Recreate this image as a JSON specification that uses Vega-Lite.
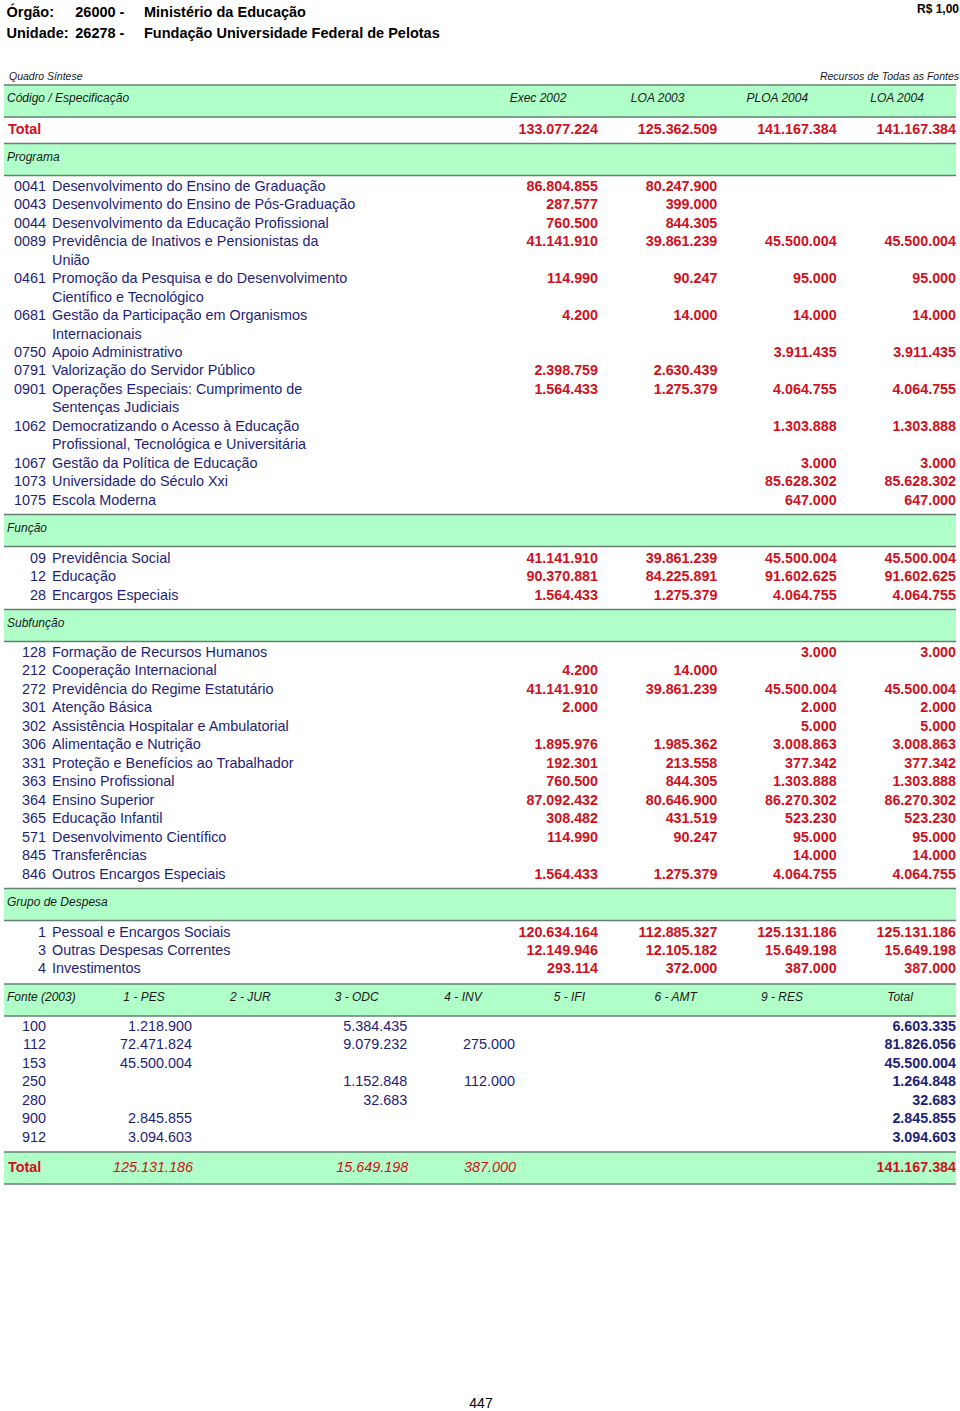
{
  "$schema": "https://vega.github.io/schema/vega-lite/v6.json",
  "width": 960,
  "height": 1411,
  "autosize": {"type": "fit", "contains": "padding"},
  "padding": {"left": 3, "right": 3, "top": 0, "bottom": 0},
  "background": "white",
  "config": {
    "view": {"stroke": null},
    "text": {"font": "Liberation Sans"},
    "locale": {"number": {"decimal": ",", "thousands": ".", "grouping": [3], "currency": ["R$ ", ""]}}
  },
  "datasets": {
    "title": [
      {"line": 0, "label": "Órgão:", "code": "26000 -", "name": "Ministério da Educação"},
      {"line": 1, "label": "Unidade:", "code": "26278 -", "name": "Fundação Universidade Federal de Pelotas"}
    ],
    "unit": [{"line": 0, "text": "R$ 1,00"}],
    "caption": [{"line": 2, "quadro": "Quadro Síntese", "fontes": "Recursos de Todas as Fontes"}],
    "page": [{"line": 55, "page": "447"}],
    "bands": [
      {"line": 3, "name": "Código / Especificação"},
      {"line": 5, "name": "Programa"},
      {"line": 24, "name": "Função"},
      {"line": 28, "name": "Subfunção"},
      {"line": 42, "name": "Grupo de Despesa"},
      {"line": 46, "name": "Fonte (2003)"},
      {"line": 54, "name": ""}
    ],
    "colheads": [
      {"line": 3, "column": "Exec 2002"},
      {"line": 3, "column": "LOA 2003"},
      {"line": 3, "column": "PLOA 2004"},
      {"line": 3, "column": "LOA 2004"}
    ],
    "totals": [{"line": 4, "label": "Total"}, {"line": 54, "label": "Total"}],
    "items": [
      {"line": 4, "Exec 2002": 133077224, "LOA 2003": 125362509, "PLOA 2004": 141167384, "LOA 2004": 141167384},
      {"line": 6, "code": "0041", "desc": "Desenvolvimento do Ensino de Graduação", "Exec 2002": 86804855, "LOA 2003": 80247900},
      {"line": 7, "code": "0043", "desc": "Desenvolvimento do Ensino de Pós-Graduação", "Exec 2002": 287577, "LOA 2003": 399000},
      {"line": 8, "code": "0044", "desc": "Desenvolvimento da Educação Profissional", "Exec 2002": 760500, "LOA 2003": 844305},
      {"line": 9, "code": "0089", "desc": "Previdência de Inativos e Pensionistas da", "Exec 2002": 41141910, "LOA 2003": 39861239, "PLOA 2004": 45500004, "LOA 2004": 45500004},
      {"line": 10, "desc": "União"},
      {"line": 11, "code": "0461", "desc": "Promoção da Pesquisa e do Desenvolvimento", "Exec 2002": 114990, "LOA 2003": 90247, "PLOA 2004": 95000, "LOA 2004": 95000},
      {"line": 12, "desc": "Científico e Tecnológico"},
      {"line": 13, "code": "0681", "desc": "Gestão da Participação em Organismos", "Exec 2002": 4200, "LOA 2003": 14000, "PLOA 2004": 14000, "LOA 2004": 14000},
      {"line": 14, "desc": "Internacionais"},
      {"line": 15, "code": "0750", "desc": "Apoio Administrativo", "PLOA 2004": 3911435, "LOA 2004": 3911435},
      {"line": 16, "code": "0791", "desc": "Valorização do Servidor Público", "Exec 2002": 2398759, "LOA 2003": 2630439},
      {"line": 17, "code": "0901", "desc": "Operações Especiais: Cumprimento de", "Exec 2002": 1564433, "LOA 2003": 1275379, "PLOA 2004": 4064755, "LOA 2004": 4064755},
      {"line": 18, "desc": "Sentenças Judiciais"},
      {"line": 19, "code": "1062", "desc": "Democratizando o Acesso à Educação", "PLOA 2004": 1303888, "LOA 2004": 1303888},
      {"line": 20, "desc": "Profissional, Tecnológica e Universitária"},
      {"line": 21, "code": "1067", "desc": "Gestão da Política de Educação", "PLOA 2004": 3000, "LOA 2004": 3000},
      {"line": 22, "code": "1073", "desc": "Universidade do Século Xxi", "PLOA 2004": 85628302, "LOA 2004": 85628302},
      {"line": 23, "code": "1075", "desc": "Escola Moderna", "PLOA 2004": 647000, "LOA 2004": 647000},
      {"line": 25, "code": "09", "desc": "Previdência Social", "Exec 2002": 41141910, "LOA 2003": 39861239, "PLOA 2004": 45500004, "LOA 2004": 45500004},
      {"line": 26, "code": "12", "desc": "Educação", "Exec 2002": 90370881, "LOA 2003": 84225891, "PLOA 2004": 91602625, "LOA 2004": 91602625},
      {"line": 27, "code": "28", "desc": "Encargos Especiais", "Exec 2002": 1564433, "LOA 2003": 1275379, "PLOA 2004": 4064755, "LOA 2004": 4064755},
      {"line": 29, "code": "128", "desc": "Formação de Recursos Humanos", "PLOA 2004": 3000, "LOA 2004": 3000},
      {"line": 30, "code": "212", "desc": "Cooperação Internacional", "Exec 2002": 4200, "LOA 2003": 14000},
      {"line": 31, "code": "272", "desc": "Previdência do Regime Estatutário", "Exec 2002": 41141910, "LOA 2003": 39861239, "PLOA 2004": 45500004, "LOA 2004": 45500004},
      {"line": 32, "code": "301", "desc": "Atenção Básica", "Exec 2002": 2000, "PLOA 2004": 2000, "LOA 2004": 2000},
      {"line": 33, "code": "302", "desc": "Assistência Hospitalar e Ambulatorial", "PLOA 2004": 5000, "LOA 2004": 5000},
      {"line": 34, "code": "306", "desc": "Alimentação e Nutrição", "Exec 2002": 1895976, "LOA 2003": 1985362, "PLOA 2004": 3008863, "LOA 2004": 3008863},
      {"line": 35, "code": "331", "desc": "Proteção e Benefícios ao Trabalhador", "Exec 2002": 192301, "LOA 2003": 213558, "PLOA 2004": 377342, "LOA 2004": 377342},
      {"line": 36, "code": "363", "desc": "Ensino Profissional", "Exec 2002": 760500, "LOA 2003": 844305, "PLOA 2004": 1303888, "LOA 2004": 1303888},
      {"line": 37, "code": "364", "desc": "Ensino Superior", "Exec 2002": 87092432, "LOA 2003": 80646900, "PLOA 2004": 86270302, "LOA 2004": 86270302},
      {"line": 38, "code": "365", "desc": "Educação Infantil", "Exec 2002": 308482, "LOA 2003": 431519, "PLOA 2004": 523230, "LOA 2004": 523230},
      {"line": 39, "code": "571", "desc": "Desenvolvimento Científico", "Exec 2002": 114990, "LOA 2003": 90247, "PLOA 2004": 95000, "LOA 2004": 95000},
      {"line": 40, "code": "845", "desc": "Transferências", "PLOA 2004": 14000, "LOA 2004": 14000},
      {"line": 41, "code": "846", "desc": "Outros Encargos Especiais", "Exec 2002": 1564433, "LOA 2003": 1275379, "PLOA 2004": 4064755, "LOA 2004": 4064755},
      {"line": 43, "code": "1", "desc": "Pessoal e Encargos Sociais", "Exec 2002": 120634164, "LOA 2003": 112885327, "PLOA 2004": 125131186, "LOA 2004": 125131186},
      {"line": 44, "code": "3", "desc": "Outras Despesas Correntes", "Exec 2002": 12149946, "LOA 2003": 12105182, "PLOA 2004": 15649198, "LOA 2004": 15649198},
      {"line": 45, "code": "4", "desc": "Investimentos", "Exec 2002": 293114, "LOA 2003": 372000, "PLOA 2004": 387000, "LOA 2004": 387000}
    ],
    "fonteheads": [
      {"line": 46, "column": "1 - PES"},
      {"line": 46, "column": "2 - JUR"},
      {"line": 46, "column": "3 - ODC"},
      {"line": 46, "column": "4 - INV"},
      {"line": 46, "column": "5 - IFI"},
      {"line": 46, "column": "6 - AMT"},
      {"line": 46, "column": "9 - RES"},
      {"line": 46, "column": "Total"}
    ],
    "fontes": [
      {"line": 47, "code": "100", "1 - PES": 1218900, "3 - ODC": 5384435, "Total": 6603335},
      {"line": 48, "code": "112", "1 - PES": 72471824, "3 - ODC": 9079232, "4 - INV": 275000, "Total": 81826056},
      {"line": 49, "code": "153", "1 - PES": 45500004, "Total": 45500004},
      {"line": 50, "code": "250", "3 - ODC": 1152848, "4 - INV": 112000, "Total": 1264848},
      {"line": 51, "code": "280", "3 - ODC": 32683, "Total": 32683},
      {"line": 52, "code": "900", "1 - PES": 2845855, "Total": 2845855},
      {"line": 53, "code": "912", "1 - PES": 3094603, "Total": 3094603}
    ],
    "fontetotal": [
      {"line": 54, "1 - PES": 125131186, "3 - ODC": 15649198, "4 - INV": 387000, "Total": 141167384}
    ]
  },
  "encoding": {
    "y": {
      "field": "line",
      "type": "quantitative",
      "axis": null,
      "scale": {
        "zero": false,
        "nice": false,
        "padding": 0,
        "domain": [0, 1, 2, 3, 4, 5, 6, 23, 24, 25, 27, 28, 29, 41, 42, 43, 45, 46, 47, 53, 54, 55],
        "range": [12.5, 34, 77, 101, 129.5, 159.5, 187, 500.5, 530.5, 558.5, 595.5, 625.5, 652.5, 874.5, 904.5, 932.5, 968.5, 1000, 1026.5, 1137.5, 1168, 1404]
      }
    }
  },
  "layer": [
    {
      "data": {"name": "bands"},
      "mark": {"type": "bar", "orient": "horizontal", "size": 32, "color": "#B0FFC9"},
      "encoding": {}
    },
    {
      "data": {"name": "bands"},
      "mark": {"type": "rule", "yOffset": -16, "color": "#667F71", "strokeWidth": 1.5},
      "encoding": {}
    },
    {
      "data": {"name": "bands"},
      "mark": {"type": "rule", "yOffset": 16, "color": "#667F71", "strokeWidth": 1.5},
      "encoding": {}
    },
    {
      "data": {"name": "bands"},
      "transform": [{"filter": "datum.name != ''"}],
      "mark": {"type": "text", "align": "left", "fontStyle": "italic", "fontSize": 12, "color": "#1a1a1a", "dy": -3},
      "encoding": {
        "text": {"field": "name"},
        "x": {"datum": "Especificação", "type": "nominal", "axis": null, "scale": {"type": "point", "padding": 0, "domain": ["Especificação"], "range": [3, 3]}}
      }
    },
    {
      "data": {"name": "title"},
      "transform": [{"fold": ["label", "code", "name"], "as": ["part", "text"]}],
      "mark": {"type": "text", "align": "left", "fontWeight": "bold", "fontSize": 14.5, "color": "#000000"},
      "encoding": {
        "text": {"field": "text"},
        "x": {"field": "part", "type": "nominal", "axis": null, "scale": {"type": "point", "padding": 0, "domain": ["label", "code", "name"], "range": [2.5, 140]}}
      }
    },
    {
      "data": {"name": "unit"},
      "mark": {"type": "text", "align": "right", "fontWeight": "bold", "fontSize": 12, "color": "#000000", "dy": -3.5},
      "encoding": {
        "text": {"field": "text"},
        "x": {"datum": "direita", "type": "nominal", "axis": null, "scale": {"type": "point", "padding": 0, "domain": ["direita"], "range": [955, 955]}}
      }
    },
    {
      "data": {"name": "caption"},
      "mark": {"type": "text", "align": "left", "fontStyle": "italic", "fontSize": 10.5, "color": "#1a1a1a"},
      "encoding": {
        "text": {"field": "quadro"},
        "x": {"datum": "esquerda", "type": "nominal", "axis": null, "scale": {"type": "point", "padding": 0, "domain": ["esquerda"], "range": [5, 5]}}
      }
    },
    {
      "data": {"name": "caption"},
      "mark": {"type": "text", "align": "right", "fontStyle": "italic", "fontSize": 10.5, "color": "#1a1a1a"},
      "encoding": {
        "text": {"field": "fontes"},
        "x": {"datum": "direita", "type": "nominal", "axis": null, "scale": {"type": "point", "padding": 0, "domain": ["direita"], "range": [955, 955]}}
      }
    },
    {
      "data": {"name": "colheads"},
      "mark": {"type": "text", "align": "center", "fontStyle": "italic", "fontSize": 12, "color": "#1a1a1a", "dy": -3},
      "encoding": {
        "text": {"field": "column"},
        "x": {"field": "column", "type": "nominal", "axis": null, "scale": {"type": "point", "padding": 0, "domain": ["Exec 2002", "LOA 2003", "PLOA 2004", "LOA 2004"], "range": [534, 893]}}
      }
    },
    {
      "data": {"name": "totals"},
      "mark": {"type": "text", "align": "left", "fontWeight": "bold", "fontSize": 14.4, "color": "#D0101C"},
      "encoding": {
        "text": {"field": "label"},
        "x": {"datum": "Especificação", "type": "nominal", "axis": null, "scale": {"type": "point", "padding": 0, "domain": ["Especificação"], "range": [4, 4]}}
      }
    },
    {
      "data": {"name": "items"},
      "transform": [{"filter": "isValid(datum.code)"}],
      "mark": {"type": "text", "align": "right", "fontSize": 14.4, "color": "#1E1E78"},
      "encoding": {
        "text": {"field": "code"},
        "x": {"datum": "Código", "type": "nominal", "axis": null, "scale": {"type": "point", "padding": 0, "domain": ["Código"], "range": [42, 42]}}
      }
    },
    {
      "data": {"name": "items"},
      "transform": [{"filter": "isValid(datum.desc)"}],
      "mark": {"type": "text", "align": "left", "fontSize": 14.4, "color": "#1E1E78"},
      "encoding": {
        "text": {"field": "desc"},
        "x": {"datum": "Especificação", "type": "nominal", "axis": null, "scale": {"type": "point", "padding": 0, "domain": ["Especificação"], "range": [48, 48]}}
      }
    },
    {
      "data": {"name": "items"},
      "transform": [
        {"fold": ["Exec 2002", "LOA 2003", "PLOA 2004", "LOA 2004"], "as": ["column", "value"]},
        {"filter": "isValid(datum.value)"}
      ],
      "mark": {"type": "text", "align": "right", "fontWeight": "bold", "fontSize": 14.3, "color": "#D0101C"},
      "encoding": {
        "text": {"field": "value", "type": "quantitative", "format": ",d"},
        "x": {"field": "column", "type": "nominal", "axis": null, "scale": {"type": "point", "padding": 0, "domain": ["Exec 2002", "LOA 2003", "PLOA 2004", "LOA 2004"], "range": [594, 952]}}
      }
    },
    {
      "data": {"name": "fonteheads"},
      "transform": [{"filter": "datum.column != 'Total'"}],
      "mark": {"type": "text", "align": "center", "fontStyle": "italic", "fontSize": 12, "color": "#1a1a1a", "dy": -3},
      "encoding": {
        "text": {"field": "column"},
        "x": {"field": "column", "type": "nominal", "axis": null, "scale": {"type": "point", "padding": 0, "domain": ["1 - PES", "2 - JUR", "3 - ODC", "4 - INV", "5 - IFI", "6 - AMT", "9 - RES"], "range": [140, 778]}}
      }
    },
    {
      "data": {"name": "fonteheads"},
      "transform": [{"filter": "datum.column == 'Total'"}],
      "mark": {"type": "text", "align": "center", "fontStyle": "italic", "fontSize": 12, "color": "#1a1a1a", "dy": -3},
      "encoding": {
        "text": {"field": "column"},
        "x": {"field": "column", "type": "nominal", "axis": null, "scale": {"type": "point", "padding": 0, "domain": ["Total"], "range": [896, 896]}}
      }
    },
    {
      "data": {"name": "fontes"},
      "mark": {"type": "text", "align": "right", "fontSize": 14.4, "color": "#1E1E78"},
      "encoding": {
        "text": {"field": "code"},
        "x": {"datum": "Código", "type": "nominal", "axis": null, "scale": {"type": "point", "padding": 0, "domain": ["Código"], "range": [42, 42]}}
      }
    },
    {
      "data": {"name": "fontes"},
      "transform": [
        {"fold": ["1 - PES", "2 - JUR", "3 - ODC", "4 - INV", "5 - IFI", "6 - AMT", "9 - RES"], "as": ["column", "value"]},
        {"filter": "isValid(datum.value)"}
      ],
      "mark": {"type": "text", "align": "right", "fontSize": 14.4, "color": "#1E1E78"},
      "encoding": {
        "text": {"field": "value", "type": "quantitative", "format": ",d"},
        "x": {"field": "column", "type": "nominal", "axis": null, "scale": {"type": "point", "padding": 0, "domain": ["1 - PES", "2 - JUR", "3 - ODC", "4 - INV", "5 - IFI", "6 - AMT", "9 - RES"], "range": [188, 834]}}
      }
    },
    {
      "data": {"name": "fontes"},
      "mark": {"type": "text", "align": "right", "fontWeight": "bold", "fontSize": 14.3, "color": "#1E1E78"},
      "encoding": {
        "text": {"field": "Total", "type": "quantitative", "format": ",d"},
        "x": {"datum": "Total", "type": "nominal", "axis": null, "scale": {"type": "point", "padding": 0, "domain": ["Total"], "range": [952, 952]}}
      }
    },
    {
      "data": {"name": "fontetotal"},
      "transform": [
        {"fold": ["1 - PES", "2 - JUR", "3 - ODC", "4 - INV", "5 - IFI", "6 - AMT", "9 - RES"], "as": ["column", "value"]},
        {"filter": "isValid(datum.value)"}
      ],
      "mark": {"type": "text", "align": "right", "fontStyle": "italic", "fontSize": 14.4, "color": "#D0101C"},
      "encoding": {
        "text": {"field": "value", "type": "quantitative", "format": ",d"},
        "x": {"field": "column", "type": "nominal", "axis": null, "scale": {"type": "point", "padding": 0, "domain": ["1 - PES", "2 - JUR", "3 - ODC", "4 - INV", "5 - IFI", "6 - AMT", "9 - RES"], "range": [189, 835]}}
      }
    },
    {
      "data": {"name": "fontetotal"},
      "mark": {"type": "text", "align": "right", "fontWeight": "bold", "fontSize": 14.3, "color": "#D0101C"},
      "encoding": {
        "text": {"field": "Total", "type": "quantitative", "format": ",d"},
        "x": {"datum": "Total", "type": "nominal", "axis": null, "scale": {"type": "point", "padding": 0, "domain": ["Total"], "range": [952, 952]}}
      }
    },
    {
      "data": {"name": "page"},
      "mark": {"type": "text", "align": "center", "fontSize": 14, "color": "#000000"},
      "encoding": {
        "text": {"field": "page"},
        "x": {"datum": "centro", "type": "nominal", "axis": null, "scale": {"type": "point", "padding": 0, "domain": ["centro"], "range": [477, 477]}}
      }
    }
  ],
  "resolve": {"scale": {"x": "independent"}}
}
